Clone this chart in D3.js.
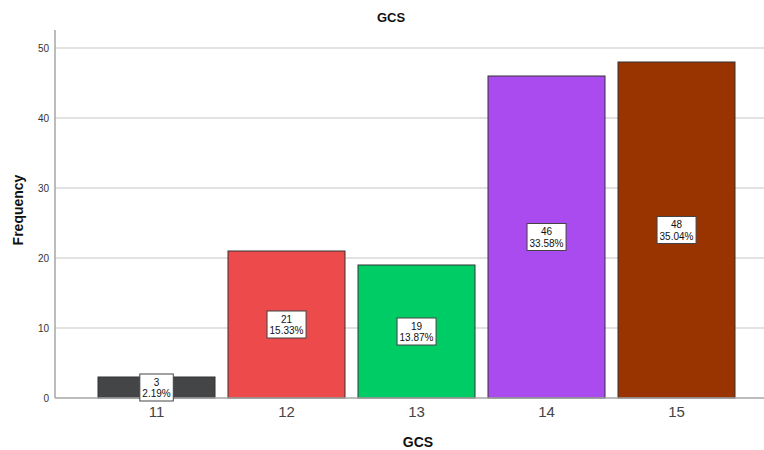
<!DOCTYPE html>
<html>
<head>
<meta charset="utf-8">
<script src="https://cdn.jsdelivr.net/npm/d3@7"></script>
<style>
  html, body { margin: 0; padding: 0; background: #fff; }
  svg { display: block; font-family: Arial, "Liberation Sans", sans-serif; }
</style>
</head>
<body>
<svg id="chart" width="764" height="450"></svg>
<script>
// GCS score frequencies
const categories = ["11", "12", "13", "14", "15"];
const counts = [3, 21, 19, 46, 48];
const percents = ["2.19%", "15.33%", "13.87%", "33.58%", "35.04%"];
const barColors = ["#444546", "#ec4a4b", "#00cc66", "#aa4bf0", "#993300"];
const yTicks = [0, 10, 20, 30, 40, 50];

const svg = d3.select("#chart");
const plot = { left: 55, right: 764, top: 30, bottom: 398 };

const x = d3.scaleBand()
  .domain(categories)
  .range([91.5, 741.5])
  .paddingInner(0.1)
  .paddingOuter(0.05);

const y = d3.scaleLinear()
  .domain([0, 50])
  .range([plot.bottom, 48]);

// horizontal gridlines
svg.append("g")
  .selectAll("line")
  .data(yTicks.filter(d => d > 0))
  .join("line")
  .attr("x1", plot.left).attr("x2", plot.right)
  .attr("y1", d => y(d)).attr("y2", d => y(d))
  .attr("stroke", "#d9d9d9").attr("stroke-width", 1.5);

// y axis
const yAxis = svg.append("g")
  .attr("transform", `translate(${plot.left},0)`)
  .call(d3.axisLeft(y).tickValues(yTicks).tickSize(0).tickPadding(6));
yAxis.select(".domain").remove();
yAxis.selectAll("text")
  .attr("font-size", 10).attr("fill", "#333")
  .attr("font-family", "Arial, 'Liberation Sans', sans-serif");
svg.append("line")
  .attr("x1", plot.left).attr("x2", plot.left)
  .attr("y1", plot.top).attr("y2", plot.bottom)
  .attr("stroke", "#a6a6a6").attr("stroke-width", 1.5);

// bars
svg.append("g")
  .selectAll("rect")
  .data(categories)
  .join("rect")
  .attr("x", d => x(d))
  .attr("y", (d, i) => y(counts[i]))
  .attr("width", x.bandwidth())
  .attr("height", (d, i) => y(0) - y(counts[i]))
  .attr("fill", (d, i) => barColors[i])
  .attr("stroke", "#333")
  .attr("stroke-width", 1);

// x axis baseline
svg.append("line")
  .attr("x1", plot.left).attr("x2", plot.right)
  .attr("y1", plot.bottom).attr("y2", plot.bottom)
  .attr("stroke", "#a6a6a6").attr("stroke-width", 1.5);

// x axis tick labels
const xAxis = svg.append("g")
  .attr("transform", `translate(0,${plot.bottom})`)
  .call(d3.axisBottom(x).tickSize(0).tickPadding(8));
xAxis.select(".domain").remove();
xAxis.selectAll("text")
  .attr("font-size", 15).attr("fill", "#444")
  .attr("font-family", "Arial, 'Liberation Sans', sans-serif");

// value labels: count and percent in a boxed label at bar mid-height
const labels = svg.append("g")
  .selectAll("g")
  .data(categories)
  .join("g")
  .attr("transform", (d, i) =>
    `translate(${x(d) + x.bandwidth() / 2},${y(counts[i] / 2)})`);

labels.each(function (d, i) {
  const g = d3.select(this);
  const top = g.append("text")
    .attr("text-anchor", "middle")
    .attr("font-size", 10)
    .attr("fill", "#111")
    .attr("x", 0).attr("y", -2)
    .text(counts[i]);
  const bottom = g.append("text")
    .attr("text-anchor", "middle")
    .attr("font-size", 10)
    .attr("fill", "#111")
    .attr("x", 0).attr("y", 9.5)
    .text(percents[i]);
  const bb = bottom.node().getBBox();
  g.insert("rect", "text")
    .attr("x", bb.x - 2.5)
    .attr("y", -13.5)
    .attr("width", bb.width + 5)
    .attr("height", 27)
    .attr("fill", "#fff")
    .attr("stroke", "#444")
    .attr("stroke-width", 1);
});

// titles
svg.append("text")
  .attr("x", 391).attr("y", 22)
  .attr("text-anchor", "middle")
  .attr("font-size", 13).attr("font-weight", "bold").attr("fill", "#111")
  .text("GCS");

svg.append("text")
  .attr("x", 418).attr("y", 447)
  .attr("text-anchor", "middle")
  .attr("font-size", 14).attr("font-weight", "bold").attr("fill", "#111")
  .text("GCS");

svg.append("text")
  .attr("transform", "translate(23,210) rotate(-90)")
  .attr("text-anchor", "middle")
  .attr("font-size", 14).attr("font-weight", "bold").attr("fill", "#111")
  .text("Frequency");
</script>
</body>
</html>
